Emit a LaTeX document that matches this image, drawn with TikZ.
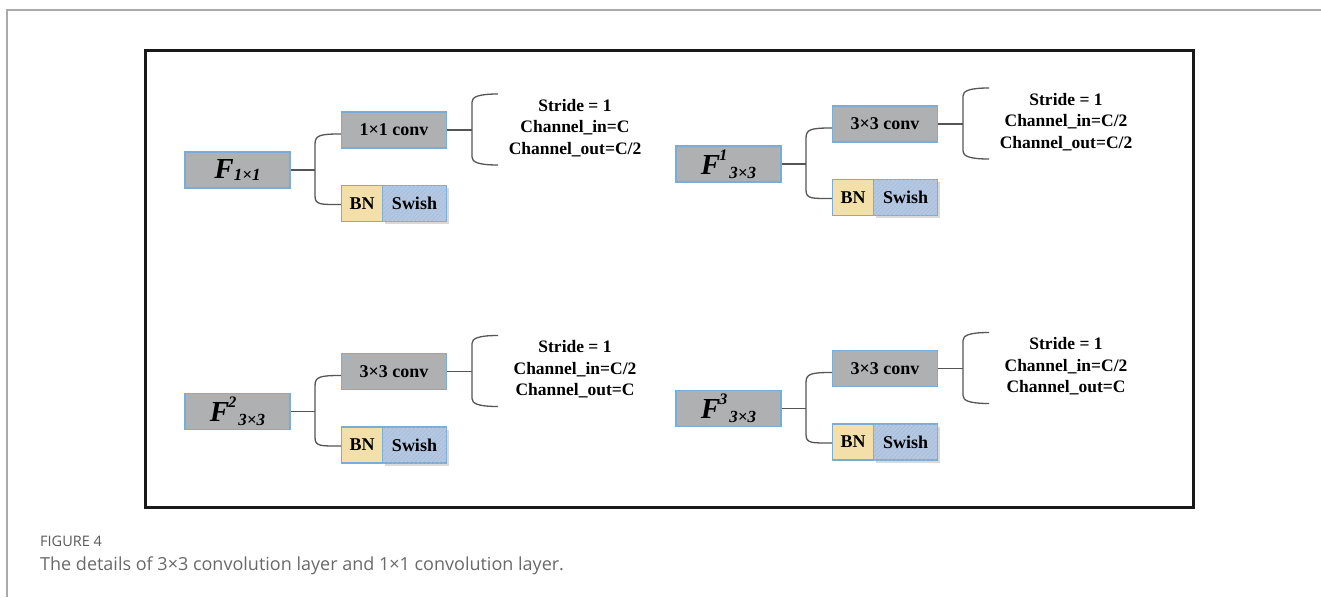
\documentclass[tikz,border=0pt]{standalone}
\usepackage{fontspec}
\setmainfont{Liberation Serif}
\newfontfamily\capfont{Open Sans}
\usetikzlibrary{calc,shadows,patterns.meta}

\definecolor{boxgray}{RGB}{174,176,177}
\definecolor{boxedge}{RGB}{122,172,215}
\definecolor{bnfill}{RGB}{242,223,170}
\definecolor{swfill}{RGB}{180,200,226}
\definecolor{swhatch}{RGB}{163,186,216}
\definecolor{linkgray}{RGB}{85,85,85}
\definecolor{pagegray}{RGB}{170,170,170}
\definecolor{capgray}{RGB}{105,105,105}

% Feature-map label pieces
\newcommand{\Fbig}{{\fontsize{29}{29}\selectfont\bfseries\itshape F}}
\newcommand{\Fsub}[2]{\raisebox{#1}{\fontsize{17}{17}\selectfont\bfseries\itshape #2}}
\newcommand{\Fsup}[1]{\raisebox{14pt}{\fontsize{16}{16}\selectfont\bfseries\itshape #1}}

% One block: input map, conv box, BN/Swish pair and the parameter list
\newcommand{\convgroup}[6]{%
  \begin{scope}[shift={(#2,#3)}]
    \node[graybox] (#1-in) at (0,0) {#4};
    \node[graybox] (#1-conv) at (156.5,-40) {#5};
    \node[bnbox] (#1-bn) at (124.5,33.5) {BN};
    \node[swbox] (#1-sw) at (177,33.5) {Swish};
    \node[params] (#1-par) at (337.5,-42) {#6};
    \coordinate (#1-split) at (77.5,0);
    \coordinate (#1-lt) at (77.5,-26);
    \coordinate (#1-lb) at (77.5,26);
    \coordinate (#1-rm) at (234.5,-40);
    \coordinate (#1-rt) at (234.5,-68);
    \coordinate (#1-rb) at (234.5,-13);
    \coordinate (#1-re1) at (260.5,-76);
    \coordinate (#1-re2) at (260.5,-5);
  \end{scope}
  \draw[link] (#1-in.east) -- (#1-split);
  \draw[link] ($(#1-conv.west)+(0,4)$) .. controls +(-20,0) and +(0,-9) .. (#1-lt)
     -- (#1-lb) .. controls +(0,9) and +(-20,0) .. ($(#1-bn.west)+(0,1)$);
  \draw[link] (#1-conv.east) -- (#1-rm);
  \draw[link] (#1-re1) .. controls +(-20,0) and +(0,-5) .. (#1-rt)
     -- (#1-rb) .. controls +(0,5) and +(-20,0) .. (#1-re2);
}

\begin{document}
\begin{tikzpicture}[x=1pt,y=-1pt,
  boxfont/.style={font=\fontsize{18}{18}\selectfont\bfseries},
  basebox/.style={draw=boxedge,line width=1.5pt,minimum height=36pt,inner sep=0pt,boxfont},
  graybox/.style={basebox,fill=boxgray,minimum width=105pt},
  bnbox/.style={basebox,fill=bnfill,minimum width=41pt},
  swbox/.style={basebox,fill=swfill,minimum width=64pt,
    drop shadow={shadow xshift=2pt,shadow yshift=-2.5pt,fill=black,opacity=0.15},
    postaction={pattern={Lines[angle=45,distance=3pt,line width=0.4pt]},pattern color=swhatch}},
  params/.style={align=center,inner sep=0pt,font=\fontsize{17.5}{21.5}\selectfont\bfseries},
  link/.style={draw=linkgray,line width=1.3pt},
  capstyle/.style={anchor=base west,inner sep=0pt,text=capgray}
]
\useasboundingbox (0,0) rectangle (1321,597);

% page rules
\draw[pagegray,line width=1.5pt] (7,597) -- (7,10) -- (1321,10);

% figure frame
\draw[black!90,line width=3pt] (145,50) rectangle (1193,507);

\convgroup{a}{237.5}{170}{\Fbig\Fsub{-2pt}{1×1}}{1×1 conv}
  {Stride = 1\\Channel\_in=C\\Channel\_out=C/2}
\convgroup{b}{728.5}{164}{\Fbig\kern-1pt\Fsup{1}\kern2pt\Fsub{-4pt}{3×3}}{3×3 conv}
  {Stride = 1\\Channel\_in=C/2\\Channel\_out=C/2}
\convgroup{c}{237.5}{411.5}{\Fbig\kern-1pt\Fsup{2}\kern2pt\Fsub{-4pt}{3×3}}{3×3 conv}
  {Stride = 1\\Channel\_in=C/2\\Channel\_out=C}
\convgroup{d}{728.5}{408.5}{\Fbig\kern-1pt\Fsup{3}\kern2pt\Fsub{-4pt}{3×3}}{3×3 conv}
  {Stride = 1\\Channel\_in=C/2\\Channel\_out=C}

% caption
\node[capstyle,font=\capfont\fontsize{14.5}{14.5}\selectfont,text=black!65] (figno) at (40,546) {FIGURE 4};
\node[capstyle,font=\capfont\fontsize{18}{18}\selectfont] (caption) at (40,570)
  {The details of 3×3 convolution layer and 1×1 convolution layer.};
\end{tikzpicture}
\end{document}
